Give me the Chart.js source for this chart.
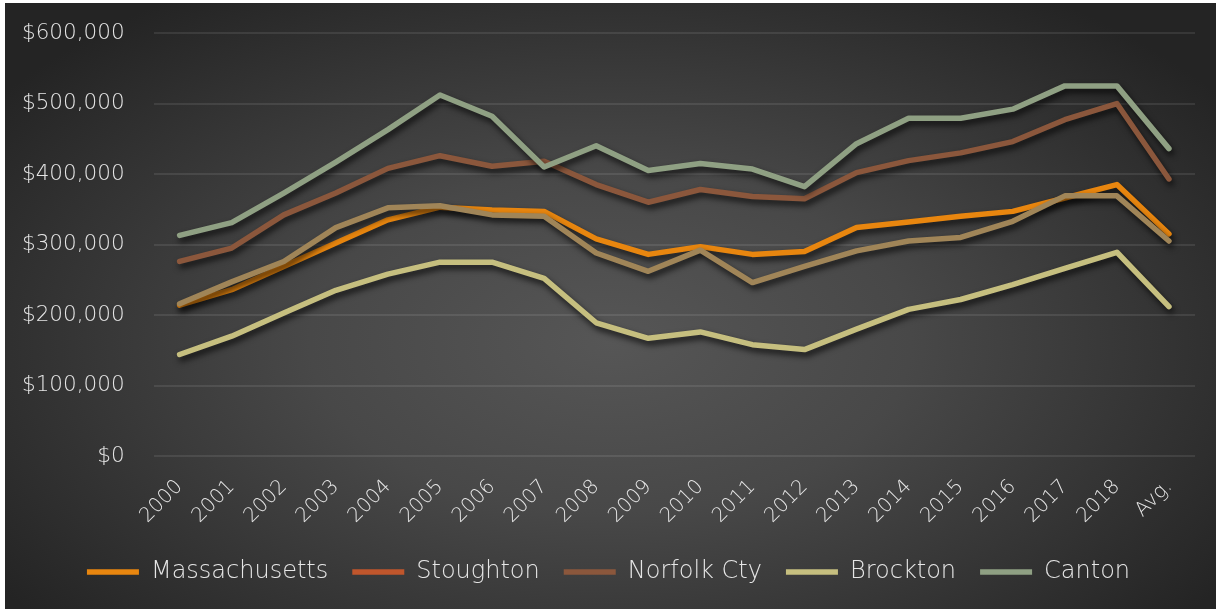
<!DOCTYPE html>
<html>
<head>
<meta charset="utf-8">
<script src="https://cdn.jsdelivr.net/npm/chart.js@4.4.1/dist/chart.umd.min.js"></script>
<style>
  html, body { margin: 0; padding: 0; background: #ffffff; }
  #wrap {
    position: absolute;
    left: 5px;
    top: 3px;
    width: 1211px;
    height: 606px;
    background: radial-gradient(ellipse 62% 70% at 50% 56%, #565656 0%, #484848 40%, #333333 75%, #242424 100%);
  }
</style>
</head>
<body>
<div id="wrap"><canvas id="priceChart"></canvas></div>
<script>
// Median home prices by year, in dollars
const years = ["2000", "2001", "2002", "2003", "2004", "2005", "2006", "2007", "2008", "2009",
  "2010", "2011", "2012", "2013", "2014", "2015", "2016", "2017", "2018", "Avg."];

const massachusetts = [214000, 236000, 269000, 302000, 335000, 353000, 349000, 347000, 308000, 286000,
  297000, 286000, 290000, 324000, 332000, 340000, 347000, 366000, 385000, 315000];
const stoughton = [216000, 247000, 276000, 324000, 352000, 355000, 342000, 340000, 288000, 262000,
  292000, 246000, 269000, 291000, 305000, 310000, 333000, 369000, 369000, 305000];
const norfolkCty = [276000, 295000, 342000, 373000, 408000, 426000, 411000, 418000, 385000, 360000,
  378000, 368000, 365000, 402000, 419000, 430000, 446000, 477000, 500000, 393000];
const brockton = [144000, 170000, 203000, 235000, 258000, 275000, 275000, 252000, 189000, 167000,
  176000, 158000, 151000, 180000, 208000, 222000, 243000, 266000, 289000, 212000];
const canton = [313000, 331000, 373000, 417000, 463000, 512000, 482000, 410000, 440000, 405000,
  415000, 407000, 382000, 443000, 479000, 479000, 492000, 525000, 525000, 436000];

const seriesNames = ["Massachusetts", "Stoughton", "Norfolk Cty", "Brockton", "Canton"];
const seriesData = [massachusetts, stoughton, norfolkCty, brockton, canton];
const lineColors = ["#e8860f", "#a08558", "#8b573c", "#c6bf7f", "#8fa083"];
const legendColors = ["#e8860f", "#c0562c", "#8b573c", "#c6bf7f", "#8fa083"];

const textColor = "#e6e6e6";
const fontFamily = "'DejaVu Sans', sans-serif";
const legendExtra = -3;

// soft drop shadow under every line
const lineShadow = {
  id: "lineShadow",
  beforeDatasetsDraw(chart) {
    const c = chart.ctx;
    c.save();
    c.shadowColor = "rgba(0, 0, 0, 0.75)";
    c.shadowBlur = 6;
    c.shadowOffsetX = 2;
    c.shadowOffsetY = 4;
  },
  afterDatasetsDraw(chart) {
    chart.ctx.restore();
  },
};

// trim the legend box so the row sits closer to the bottom edge
const legendFit = {
  id: "legendFit",
  beforeInit(chart) {
    const origFit = chart.legend.fit;
    chart.legend.fit = function fit() {
      origFit.call(this);
      this.height += legendExtra;
    };
  },
};

const datasets = seriesNames.map((name, i) => ({
  label: name,
  data: seriesData[i],
  borderColor: lineColors[i],
  backgroundColor: lineColors[i],
  borderWidth: 5.5,
  borderCapStyle: "round",
  borderJoinStyle: "round",
  pointRadius: 0,
  tension: 0,
  // later series sit on top
  order: seriesNames.length - i,
}));

Chart.defaults.font.family = fontFamily;
Chart.defaults.font.weight = 200;
Chart.defaults.color = textColor;

new Chart(document.getElementById("priceChart"), {
  type: "line",
  data: { labels: years, datasets: datasets },
  plugins: [lineShadow, legendFit],
  options: {
    responsive: true,
    maintainAspectRatio: false,
    animation: false,
    layout: { padding: { top: 30, right: 21, bottom: 18, left: 17 } },
    scales: {
      x: {
        offset: true,
        grid: { display: false },
        border: { display: false },
        ticks: {
          color: textColor,
          font: { size: 20, weight: 200 },
          minRotation: 45,
          maxRotation: 45,
          padding: 11,
        },
        // rotated labels may hang past the plot edges
        afterFit(scale) {
          scale.paddingLeft = 0;
          scale.paddingRight = 0;
          scale.height -= 3;
        },
      },
      y: {
        min: 0,
        max: 600000,
        grid: { color: "rgba(255, 255, 255, 0.09)", lineWidth: 2, drawTicks: false },
        border: { display: false },
        ticks: {
          stepSize: 100000,
          color: textColor,
          font: { size: 21.5, weight: 200 },
          padding: 29,
          callback: (value) => "$" + value.toLocaleString("en-US"),
        },
        // tick padding should only sit between the labels and the plot
        afterFit(scale) {
          scale.width -= scale.options.ticks.padding;
          scale.paddingTop = 0;
          scale.paddingBottom = 0;
        },
      },
    },
    plugins: {
      tooltip: { enabled: false },
      legend: {
        position: "bottom",
        labels: {
          color: textColor,
          font: { size: 24, weight: 200 },
          usePointStyle: true,
          pointStyle: "line",
          pointStyleWidth: 52,
          boxHeight: 20,
          padding: 24,
          sort: (a, b) => a.datasetIndex - b.datasetIndex,
          generateLabels(chart) {
            const items = Chart.defaults.plugins.legend.labels.generateLabels(chart);
            items.forEach((item) => {
              item.strokeStyle = legendColors[item.datasetIndex];
              item.fillStyle = legendColors[item.datasetIndex];
              item.pointStyle = "line";
            });
            return items;
          },
        },
      },
    },
  },
});
</script>
</body>
</html>
